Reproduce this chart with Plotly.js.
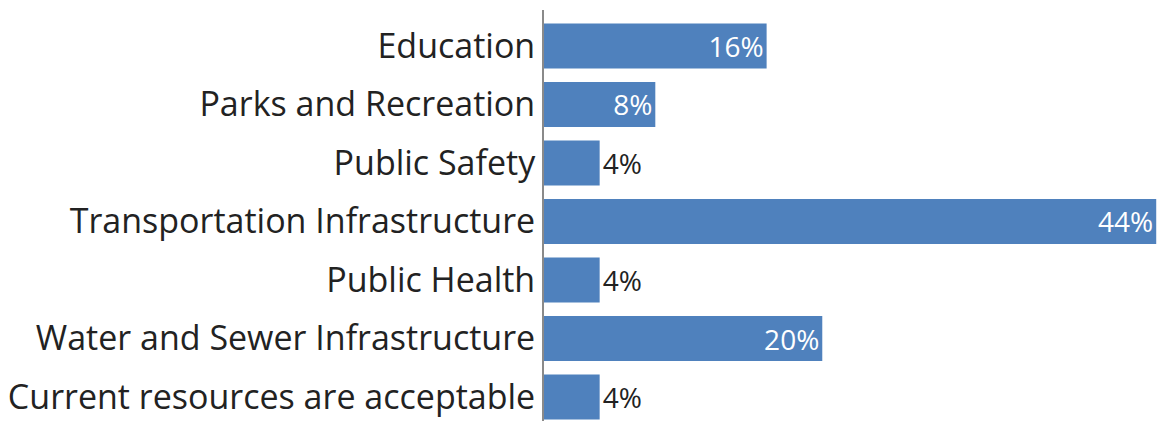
<!DOCTYPE html>
<html>
<head>
<meta charset="utf-8">
<script src="https://cdn.plot.ly/plotly-3.0.1.min.js"></script>
<style>html,body{margin:0;padding:0;background:#fff;}#chart{width:1159px;height:421px;}</style>
</head>
<body>
<div id="chart"></div>
<script>
const categories = [
  "Education",
  "Parks and Recreation",
  "Public Safety",
  "Transportation Infrastructure",
  "Public Health",
  "Water and Sewer Infrastructure",
  "Current resources are acceptable"
];
const percentages = [16, 8, 4, 44, 4, 20, 4];
const valueLabels = ["16%", "8%", "4%", "44%", "4%", "20%", "4%"];
const labelPositions = ["inside", "inside", "outside", "inside", "outside", "inside", "outside"];

const trace = {
  type: "bar",
  orientation: "h",
  y: categories,
  x: percentages,
  text: valueLabels,
  textposition: labelPositions,
  insidetextanchor: "end",
  textangle: 0,
  insidetextfont: {color: "#ffffff", size: 28, family: "Open Sans, sans-serif"},
  outsidetextfont: {color: "#222222", size: 28, family: "Open Sans, sans-serif"},
  marker: {color: "#4f81bd"},
  cliponaxis: false,
  hoverinfo: "none"
};

const layout = {
  width: 1159,
  height: 421,
  margin: {l: 544, r: 0, t: 10, b: 0, pad: 0},
  paper_bgcolor: "#ffffff",
  plot_bgcolor: "#ffffff",
  showlegend: false,
  bargap: 0.23,
  font: {family: "Open Sans, sans-serif", color: "#222222"},
  xaxis: {
    range: [0, 44.2],
    visible: false,
    showgrid: false,
    zeroline: false
  },
  yaxis: {
    type: "category",
    range: [6.41, -0.615],
    showline: true,
    linecolor: "#8a8a8a",
    linewidth: 2,
    showgrid: false,
    zeroline: false,
    ticks: "",
    ticklabelstandoff: 0,
    tickfont: {size: 34, color: "#222222", family: "Open Sans, sans-serif"}
  }
};

Plotly.newPlot("chart", [trace], layout, {displayModeBar: false, staticPlot: true});
</script>
</body>
</html>
